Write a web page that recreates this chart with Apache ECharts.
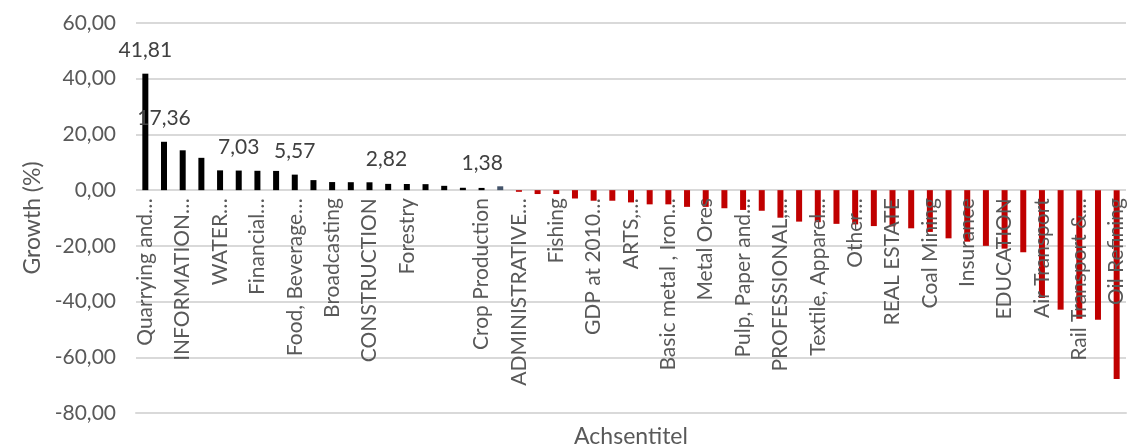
<!DOCTYPE html>
<html>
<head>
<meta charset="utf-8">
<script src="https://cdn.jsdelivr.net/npm/echarts@6/dist/echarts.min.js"></script>
<style>
  html, body { margin: 0; padding: 0; background: #fff; }
  #chart { width: 1147px; height: 448px; }
</style>
</head>
<body>
<div id="chart"></div>
<script>
// sectors, sorted by growth; only every second name is printed on the axis
const categories = [
  'Quarrying and…', '', 'INFORMATION…', '', 'WATER…', '', 'Financial…', '',
  'Food, Beverage…', '', 'Broadcasting', '', 'CONSTRUCTION', '', 'Forestry', '',
  '', '', 'Crop Production', '', 'ADMINISTRATIVE…', '', 'Fishing', '',
  'GDP at 2010…', '', 'ARTS,…', '', 'Basic metal , Iron…', '', 'Metal Ores', '',
  'Pulp, Paper and…', '', 'PROFESSIONAL,…', '', 'Textile, Apparel…', '', 'Other…', '',
  'REAL ESTATE', '', 'Coal Mining', '', 'Insurance', '', 'EDUCATION', '',
  'Air Transport', '', 'Rail Transport &…', '', 'Oil Refining'
]

const growth = [
  41.81, 17.36, 14.3, 11.6, 7.1, 7.03, 6.95, 6.9, 5.57, 3.6,
  2.9, 2.85, 2.82, 2.25, 2.2, 2.15, 1.55, 0.85, 0.8, 1.38,
  -0.6, -1.4, -1.4, -3.0, -3.8, -3.8, -4.4, -5.1, -5.1, -6.0,
  -6.0, -6.5, -7.1, -7.4, -9.9, -11.3, -11.5, -12.1, -12.3, -12.9,
  -13.0, -13.7, -15.0, -17.3, -18.5, -20.0, -21.0, -22.3, -38.7, -42.9,
  -46.2, -46.5, -67.8
]

// bars that carry a value label
const labelledBars = [0, 1, 5, 8, 12, 19]
const yTicks = { min: -80, max: 60, step: 20 }

const highlightBar = 19
const labelShift = { 12: 17, 19: -18 }

const fmt = v => v.toFixed(2).replace('.', ',')
const textColor = '#595959'
const font = 'Lato'

const chart = echarts.init(document.getElementById('chart'))

const seriesData = growth.map((v, i) => {
  if (labelledBars.indexOf(i) < 0) return v
  return {
    value: v,
    label: {
      show: true,
      position: 'top',
      distance: 13,
      offset: [labelShift[i] || 0, 0],
      formatter: p => fmt(p.value),
      color: '#404040',
      fontFamily: font,
      fontSize: 21
    }
  }
})

const gridTop = 23
const gridBottom = 35
const plotH = 448 - gridTop - gridBottom
// distance from the bottom edge of the plot up to the zero line
const zeroLift = plotH * (0 - yTicks.min) / (yTicks.max - yTicks.min)

chart.setOption({
  animation: false,
  backgroundColor: '#fff',
  grid: {
    left: 136,
    right: 21,
    top: gridTop,
    bottom: gridBottom,
    outerBoundsMode: 'none'
  },
  xAxis: {
    type: 'category',
    data: categories,
    z: 5,
    name: 'Achsentitel',
    nameLocation: 'middle',
    nameGap: 12,
    nameMoveOverlap: false,
    nameTextStyle: { color: textColor, fontFamily: font, fontSize: 23 },
    axisLine: { onZero: false, lineStyle: { color: '#d9d9d9', width: 2 } },
    axisTick: { show: false },
    axisLabel: {
      interval: 1,
      rotate: 90,
      // hang the names from the zero line like Excel does
      margin: -zeroLift + 8,
      color: textColor,
      fontFamily: font,
      fontSize: 21
    }
  },
  yAxis: {
    type: 'value',
    min: yTicks.min,
    max: yTicks.max,
    interval: yTicks.step,
    name: 'Growth (%)',
    nameLocation: 'middle',
    nameGap: 90,
    nameTextStyle: { color: textColor, fontFamily: font, fontSize: 23 },
    axisLine: { show: false },
    axisTick: { show: false },
    axisLabel: {
      margin: 20,
      color: textColor,
      fontFamily: font,
      fontSize: 21,
      formatter: v => fmt(v)
    },
    splitLine: { lineStyle: { color: '#d9d9d9', width: 2 } }
  },
  series: [{
    type: 'bar',
    data: seriesData,
    barWidth: 6,
    z: 2,
    itemStyle: {
      color: p => {
        if (p.value < 0) return '#c00000'
        if (p.dataIndex === highlightBar) return '#44546a'
        return '#000000'
      }
    }
  }]
})
</script>
</body>
</html>
